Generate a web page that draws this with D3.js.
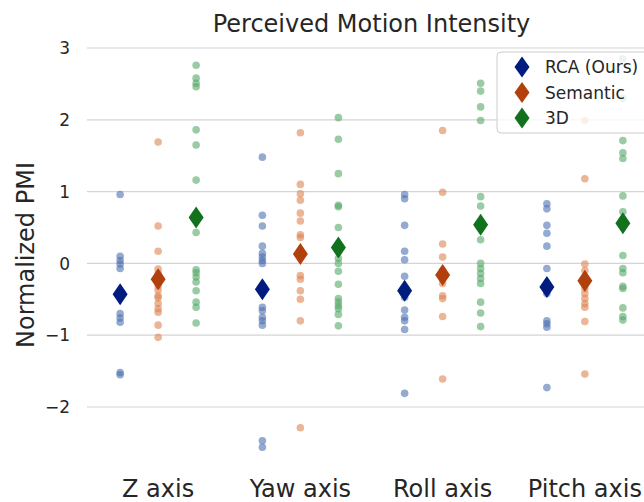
<html>
<head>
<script src="https://d3js.org/d3.v7.min.js"></script>
<style>
  body { margin: 0; background: #fff; }
  text { font-family: "DejaVu Sans", sans-serif; fill: #262626; }
</style>
</head>
<body>
<div id="chart"></div>
<script>
const categories = ["Z axis", "Yaw axis", "Roll axis", "Pitch axis"];
const methods = ["RCA (Ours)", "Semantic", "3D"];
const yTicks = [-2, -1, 0, 1, 2, 3];

// per-participant scores, one array per method, one inner array per axis
const rcaValues = [
  [0.96, 0.10, 0.04, -0.01, -0.07, -0.70, -0.76, -0.82, -1.52, -1.55],
  [1.48, 0.67, 0.52, 0.24, 0.14, 0.09, 0.04, 0.00, -0.61, -0.66, -0.75, -0.80, -0.86, -2.47, -2.56],
  [0.96, 0.90, 0.53, 0.17, 0.05, -0.18, -0.47, -0.65, -0.75, -0.80, -0.92, -1.81],
  [0.83, 0.76, 0.53, 0.42, 0.24, -0.07, -0.42, -0.80, -0.84, -0.89, -1.73]
];
const semanticValues = [
  [1.69, 0.52, 0.17, -0.08, -0.14, -0.31, -0.37, -0.45, -0.48, -0.56, -0.63, -0.68, -0.86, -1.03],
  [1.82, 1.10, 0.97, 0.88, 0.70, 0.59, 0.40, 0.36, -0.17, -0.22, -0.38, -0.50, -0.80, -2.29],
  [1.85, 0.99, 0.27, 0.09, -0.10, -0.28, -0.45, -0.49, -0.74, -1.61],
  [1.99, 1.18, -0.01, -0.10, -0.35, -0.42, -0.49, -0.56, -0.61, -0.81, -1.54]
];
const threeDValues = [
  [2.76, 2.58, 2.51, 2.46, 1.86, 1.65, 1.16, 0.43, -0.09, -0.13, -0.19, -0.26, -0.38, -0.54, -0.61, -0.83],
  [2.03, 1.73, 1.25, 0.81, 0.79, 0.50, 0.07, 0.00, -0.11, -0.29, -0.49, -0.54, -0.59, -0.63, -0.71, -0.87],
  [2.51, 2.40, 2.18, 1.99, 0.93, 0.80, 0.33, 0.00, -0.07, -0.14, -0.21, -0.28, -0.54, -0.69, -0.88],
  [2.85, 2.30, 1.71, 1.54, 1.46, 0.94, 0.72, 0.11, -0.07, -0.13, -0.32, -0.35, -0.62, -0.74, -0.79]
];
// group means (diamonds)
const rcaMeans = [-0.43, -0.36, -0.38, -0.33];
const semanticMeans = [-0.22, 0.13, -0.16, -0.24];
const threeDMeans = [0.64, 0.22, 0.54, 0.56];

const dotColors = ["#4c72b0", "#dd8452", "#55a868"];
const meanColors = ["#001c7f", "#b1400d", "#12711c"];

const allValues = [rcaValues, semanticValues, threeDValues];
const allMeans = [rcaMeans, semanticMeans, threeDMeans];

const width = 644, height = 502;

const svg = d3.select("#chart").append("svg")
  .attr("width", width)
  .attr("height", height);

const x = d3.scaleBand().domain(categories).range([87, 656]);
const dodge = d3.scalePoint().domain(methods).range([-38, 38]);
const y = d3.scaleLinear().domain([-2, 3]).range([407, 48]);

const plot = svg.append("g");

// grid
plot.selectAll("line.grid")
  .data(yTicks)
  .enter().append("line")
  .attr("class", "grid")
  .attr("x1", 87).attr("x2", width)
  .attr("y1", d => y(d)).attr("y2", d => y(d))
  .attr("stroke", "#d4d4d4")
  .attr("stroke-width", 1.2);

// y tick labels
svg.selectAll("text.ytick")
  .data(yTicks)
  .enter().append("text")
  .attr("class", "ytick")
  .attr("x", 70)
  .attr("y", d => y(d))
  .attr("dy", "0.36em")
  .attr("text-anchor", "end")
  .style("font-size", "17px")
  .text(d => d < 0 ? "\u2212" + Math.abs(d) : d);

// x category labels
svg.selectAll("text.xtick")
  .data(categories)
  .enter().append("text")
  .attr("class", "xtick")
  .attr("x", d => x(d) + x.bandwidth() / 2)
  .attr("y", 497)
  .attr("text-anchor", "middle")
  .style("font-size", "24px")
  .text(d => d);

svg.append("text")
  .attr("transform", "translate(34,255) rotate(-90)")
  .attr("text-anchor", "middle")
  .style("font-size", "24px")
  .text("Normalized PMI");

svg.append("text")
  .attr("x", (87 + 656) / 2)
  .attr("y", 32)
  .attr("text-anchor", "middle")
  .style("font-size", "24px")
  .text("Perceived Motion Intensity");

// strip dots
const dots = [];
methods.forEach((m, mi) => {
  categories.forEach((c, ci) => {
    allValues[mi][ci].forEach(v => dots.push({ m: m, mi: mi, c: c, v: v }));
  });
});

plot.selectAll("circle.dot")
  .data(dots)
  .enter().append("circle")
  .attr("class", "dot")
  .attr("cx", d => x(d.c) + x.bandwidth() / 2 + dodge(d.m))
  .attr("cy", d => y(d.v))
  .attr("r", 3.8)
  .attr("fill", d => dotColors[d.mi])
  .attr("fill-opacity", 0.6);

// mean diamonds
const diamond = (w, h) => `M0,${-h / 2}L${w / 2},0L0,${h / 2}L${-w / 2},0Z`;
const means = [];
methods.forEach((m, mi) => {
  categories.forEach((c, ci) => means.push({ m: m, mi: mi, c: c, v: allMeans[mi][ci] }));
});

plot.selectAll("path.mean")
  .data(means)
  .enter().append("path")
  .attr("class", "mean")
  .attr("d", diamond(15, 22))
  .attr("transform", d => `translate(${x(d.c) + x.bandwidth() / 2 + dodge(d.m)},${y(d.v)})`)
  .attr("fill", d => meanColors[d.mi]);

// legend
const legend = svg.append("g").attr("transform", "translate(497,52)");
legend.append("rect")
  .attr("width", 160).attr("height", 81)
  .attr("rx", 4)
  .attr("fill", "#fff").attr("fill-opacity", 0.8)
  .attr("stroke", "#cccccc");

const item = legend.selectAll("g.item")
  .data(methods)
  .enter().append("g")
  .attr("class", "item")
  .attr("transform", (d, i) => `translate(0,${15 + i * 25.5})`);

item.append("path")
  .attr("d", diamond(15, 21))
  .attr("transform", "translate(25,0)")
  .attr("fill", (d, i) => meanColors[i]);

item.append("text")
  .attr("x", 48)
  .attr("dy", "0.36em")
  .style("font-size", "17px")
  .text(d => d);
</script>
</body>
</html>
